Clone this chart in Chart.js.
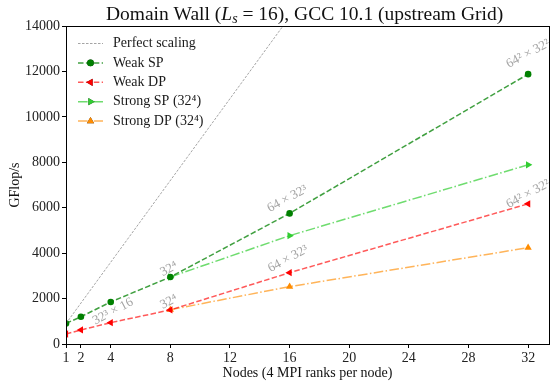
<!DOCTYPE html>
<html>
<head>
<meta charset="utf-8">
<script src="https://cdn.jsdelivr.net/npm/chart.js@4/dist/chart.umd.min.js"></script>
<style>
html,body{margin:0;padding:0;background:#fff;}
#wrap{width:556px;height:382px;position:relative;}
</style>
</head>
<body>
<div id="wrap"><canvas id="c" width="556" height="382"></canvas></div>
<script>
// ---- data ----
const nodesWeak = [1, 2, 4, 8, 16, 32];
const weakSP = [905, 1200, 1850, 2950, 5750, 11880];
const weakDP = [440, 617, 940, 1500, 3140, 6170];
const nodesStrong = [8, 16, 32];
const strongSP = [2950, 4770, 7890];
const strongDP = [1510, 2525, 4240];
const perfectNodes = [1, 32];
const perfectBase = 900;
const xTicks = [1, 2, 4, 8, 12, 16, 20, 24, 28, 32];
const yTicks = [0, 2000, 4000, 6000, 8000, 10000, 12000, 14000];
const seriesNames = ["Perfect scaling", "Weak SP", "Weak DP", "Strong SP (32\u2074)", "Strong DP (32\u2074)"];
const annoText = ["32\u00B3 \u00D7 16", "32\u2074", "32\u2074", "64 \u00D7 32\u00B3", "64 \u00D7 32\u00B3", "64\u00B2 \u00D7 32\u00B2", "64\u00B2 \u00D7 32\u00B2"];
const annoX = [4.15, 7.9, 7.9, 15.85, 15.9, 32.0, 32.0];
const annoY = [1430, 3300, 1850, 6390, 3745, 12780, 6600];

const SERIF = '"Liberation Serif", "DejaVu Serif", serif';
const pts = (xs, ys) => xs.map((x, i) => ({x: x, y: ys[i]}));

const datasets = [
  {label: seriesNames[0], data: perfectNodes.map(n => ({x: n, y: perfectBase * n})),
   borderColor: 'rgba(120,120,120,0.85)', borderWidth: 0.8, borderDash: [2.5, 1.5], pointRadius: 0, pointStyle: false},
  {label: seriesNames[1], data: pts(nodesWeak, weakSP),
   borderColor: 'rgba(0,128,0,0.75)', borderWidth: 1.5, borderDash: [5.5, 2.4],
   pointStyle: 'circle', pointRadius: 3.3, pointBackgroundColor: '#008000', pointBorderColor: '#008000', pointBorderWidth: 0},
  {label: seriesNames[2], data: pts(nodesWeak, weakDP),
   borderColor: 'rgba(255,0,0,0.65)', borderWidth: 1.5, borderDash: [5.5, 2.4],
   pointStyle: 'triangle', rotation: -90, pointRadius: 4.2, pointBackgroundColor: '#ff0000', pointBorderColor: '#ff0000', pointBorderWidth: 0},
  {label: seriesNames[3], data: pts(nodesStrong, strongSP),
   borderColor: 'rgba(50,205,50,0.7)', borderWidth: 1.5, borderDash: [9.6, 2.4, 1.5, 2.4],
   pointStyle: 'triangle', rotation: 90, pointRadius: 4.2, pointBackgroundColor: '#32cd32', pointBorderColor: '#32cd32', pointBorderWidth: 0},
  {label: seriesNames[4], data: pts(nodesStrong, strongDP),
   borderColor: 'rgba(255,140,0,0.65)', borderWidth: 1.5, borderDash: [9.6, 2.4, 1.5, 2.4],
   pointStyle: 'triangle', rotation: 0, pointRadius: 4.2, pointBackgroundColor: '#ff8c00', pointBorderColor: '#ff8c00', pointBorderWidth: 0}
];

const framePlugin = {
  id: 'frame',
  afterDatasetsDraw(chart) {
    const ctx = chart.ctx, a = chart.chartArea;
    ctx.save();
    ctx.strokeStyle = '#000'; ctx.lineWidth = 1;
    ctx.strokeRect(Math.round(a.left) + 0.5, Math.round(a.top) + 0.5, Math.round(a.right - a.left), Math.round(a.bottom - a.top));
    ctx.restore();
  }
};

const titlePlugin = {
  id: 'mtitle',
  afterDraw(chart) {
    const ctx = chart.ctx, a = chart.chartArea;
    const segs = [
      {t: 'Domain Wall (', f: '19.5px ' + SERIF, dy: 0},
      {t: 'L', f: 'italic 19.5px ' + SERIF, dy: 0},
      {t: 's', f: 'italic 14px ' + SERIF, dy: 3},
      {t: ' = 16), GCC 10.1 (upstream Grid)', f: '19.5px ' + SERIF, dy: 0}
    ];
    ctx.save();
    let w = 0;
    segs.forEach(s => { ctx.font = s.f; w += ctx.measureText(s.t).width; });
    let x = (a.left + a.right) / 2 - w / 2 - 3;
    const y = 20;
    ctx.fillStyle = '#111'; ctx.textBaseline = 'alphabetic'; ctx.textAlign = 'left';
    segs.forEach(s => { ctx.font = s.f; ctx.fillText(s.t, x, y + s.dy); x += ctx.measureText(s.t).width; });
    ctx.restore();
  }
};

const legendPlugin = {
  id: 'mlegend',
  afterDraw(chart) {
    const ctx = chart.ctx, a = chart.chartArea;
    ctx.save();
    const x0 = a.left + 12, x1 = a.left + 37, tx = a.left + 47;
    let y = a.top + 17.5;
    chart.data.datasets.forEach((ds, i) => {
      ctx.save();
      ctx.strokeStyle = ds.borderColor; ctx.lineWidth = ds.borderWidth;
      ctx.setLineDash(ds.borderDash || []);
      ctx.beginPath(); ctx.moveTo(x0, y); ctx.lineTo(x1, y); ctx.stroke();
      ctx.setLineDash([]);
      if (ds.pointStyle) {
        Chart.helpers.drawPoint(ctx, {pointStyle: ds.pointStyle, rotation: ds.rotation || 0, radius: ds.pointRadius, borderWidth: 0}, (x0 + x1) / 2, y);
        ctx.fillStyle = ds.pointBackgroundColor; ctx.fill();
      }
      ctx.restore();
      ctx.fillStyle = '#1a1a1a'; ctx.font = '14px ' + SERIF;
      ctx.textBaseline = 'middle'; ctx.textAlign = 'left';
      ctx.fillText(ds.label, tx, y);
      y += 19.4;
    });
    ctx.restore();
  }
};

const annoPlugin = {
  id: 'anno',
  afterDatasetsDraw(chart) {
    const ctx = chart.ctx, xs = chart.scales.x, ys = chart.scales.y;
    ctx.save();
    ctx.fillStyle = 'rgba(140,140,140,0.8)';
    ctx.font = '13px ' + SERIF;
    ctx.textAlign = 'center'; ctx.textBaseline = 'middle';
    annoText.forEach((t, i) => {
      ctx.save();
      ctx.translate(xs.getPixelForValue(annoX[i]), ys.getPixelForValue(annoY[i]));
      ctx.rotate(-28 * Math.PI / 180);
      ctx.fillText(t, 0, 0);
      ctx.restore();
    });
    ctx.restore();
  }
};

new Chart(document.getElementById('c'), {
  type: 'line',
  data: {datasets: datasets},
  options: {
    responsive: false,
    animation: false,
    devicePixelRatio: 1,
    layout: {padding: {top: 26, right: 7, left: 0, bottom: 0}},
    plugins: {legend: {display: false}, title: {display: false}, tooltip: {enabled: false}},
    scales: {
      x: {
        type: 'linear', min: 1, max: 33.4,
        afterBuildTicks: s => { s.ticks = xTicks.map(v => ({value: v})); },
        afterFit: s => { s.height = 38; },
        grid: {drawOnChartArea: false, drawTicks: true, tickLength: 4, color: '#000'},
        border: {display: true, color: '#000'},
        ticks: {font: {family: SERIF, size: 14}, color: '#222', padding: 2, maxRotation: 0, autoSkip: false,
                callback: v => String(v)},
        title: {display: true, text: 'Nodes (4 MPI ranks per node)', font: {family: SERIF, size: 14}, color: '#111', padding: {top: 0, bottom: 0}}
      },
      y: {
        min: 0, max: 14000,
        afterBuildTicks: s => { s.ticks = yTicks.map(v => ({value: v})); },
        afterFit: s => { s.width = 66; },
        grid: {drawOnChartArea: false, drawTicks: true, tickLength: 4, color: '#000'},
        border: {display: true, color: '#000'},
        ticks: {font: {family: SERIF, size: 14}, color: '#222', padding: 2, callback: v => String(v)},
        title: {display: true, text: 'GFlop/s', font: {family: SERIF, size: 14}, color: '#111', padding: {top: 7, bottom: 0}}
      }
    }
  },
  plugins: [framePlugin, annoPlugin, legendPlugin, titlePlugin]
});
</script>
</body>
</html>
